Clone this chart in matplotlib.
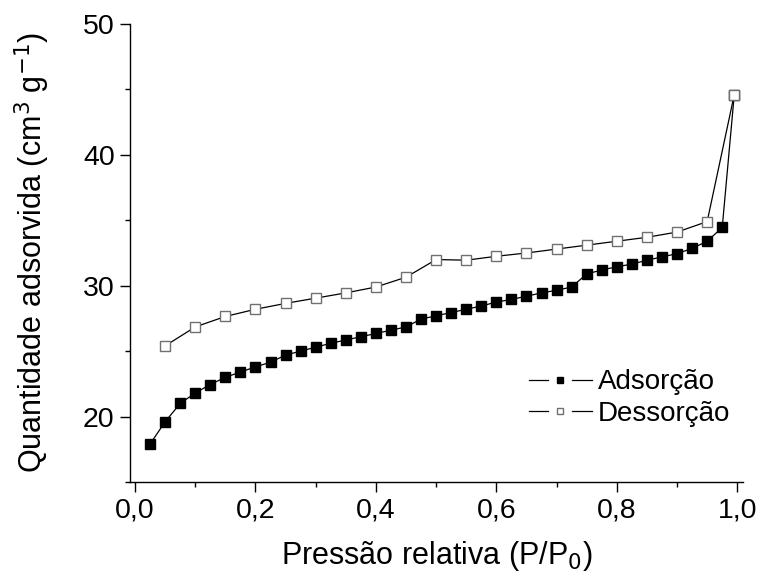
import matplotlib
matplotlib.use("Agg")
import matplotlib.pyplot as plt
from matplotlib.ticker import MultipleLocator, FuncFormatter
from matplotlib.legend_handler import HandlerBase
from matplotlib.lines import Line2D

plt.rcParams['font.family'] = ['Liberation Sans', 'DejaVu Sans']

# Data
p_ads = [0.025, 0.05, 0.075, 0.10, 0.125, 0.15, 0.175, 0.20, 0.225, 0.25,
         0.275, 0.30, 0.325, 0.35, 0.375, 0.40, 0.425, 0.45, 0.475, 0.50,
         0.525, 0.55, 0.575, 0.60, 0.625, 0.65, 0.675, 0.70, 0.725, 0.75,
         0.775, 0.80, 0.825, 0.85, 0.875, 0.90, 0.925, 0.95, 0.975, 0.995]
v_ads = [17.9, 19.6, 21.0, 21.8, 22.45, 23.0, 23.4, 23.8, 24.15, 24.7,
         25.0, 25.3, 25.6, 25.85, 26.1, 26.35, 26.6, 26.85, 27.45, 27.7,
         27.95, 28.2, 28.45, 28.75, 28.95, 29.2, 29.45, 29.65, 29.9, 30.9,
         31.2, 31.45, 31.65, 31.95, 32.2, 32.45, 32.85, 33.4, 34.45, 44.6]

p_des = [0.995, 0.95, 0.90, 0.85, 0.80, 0.75, 0.70, 0.65, 0.60, 0.55,
         0.50, 0.45, 0.40, 0.35, 0.30, 0.25, 0.20, 0.15, 0.10, 0.05]
v_des = [44.6, 34.9, 34.1, 33.7, 33.4, 33.1, 32.8, 32.5, 32.25, 31.95,
         32.0, 30.65, 29.9, 29.45, 29.05, 28.65, 28.2, 27.65, 26.85, 25.4]

xlabel = "Pressão relativa (P/P$_0$)"
ylabel = "Quantidade adsorvida (cm$^3$ g$^{-1}$)"
labels = ["Adsorção", "Dessorção"]


class GapLineHandler(HandlerBase):
    """Origin-style legend handle: line, gap, marker, gap, line."""
    def create_artists(self, legend, orig, xdescent, ydescent, width, height,
                       fontsize, trans):
        y = height / 2 - ydescent
        x0 = -xdescent
        gap = width * 0.19
        mid = x0 + width / 2
        l1 = Line2D([x0, mid - gap], [y, y], color=orig.get_color(),
                    lw=orig.get_linewidth(), transform=trans)
        l2 = Line2D([mid + gap, x0 + width], [y, y], color=orig.get_color(),
                    lw=orig.get_linewidth(), transform=trans)
        m = Line2D([mid], [y], linestyle='none', marker=orig.get_marker(),
                   ms=orig.get_markersize() * 0.6, mfc=orig.get_markerfacecolor(),
                   mec=orig.get_markeredgecolor(), mew=orig.get_markeredgewidth(),
                   transform=trans)
        return [l1, l2, m]


W, H = 758, 576
fig = plt.figure(figsize=(W/100, H/100), dpi=100)
ax = fig.add_axes([130/W, (H-482)/H, (743-130)/W, (482-24)/H])

h1, = ax.plot(p_ads, v_ads, color='black', lw=0.9, marker='s', ms=7,
              mfc='black', mec='black', label=labels[0], zorder=2)
h2, = ax.plot(p_des, v_des, color='black', lw=0.9, marker='s', ms=7,
              mfc='white', mec='#707070', mew=1.0, label=labels[1], zorder=3)

ax.set_xlim(-0.0083, 1.0095)
ax.set_ylim(15, 50)
ax.xaxis.set_major_locator(MultipleLocator(0.2))
ax.xaxis.set_minor_locator(MultipleLocator(0.1))
ax.yaxis.set_major_locator(MultipleLocator(10))
ax.yaxis.set_minor_locator(MultipleLocator(5))
ax.xaxis.set_major_formatter(FuncFormatter(lambda v, p: f"{v:.1f}".replace('.', ',')))
ax.yaxis.set_major_formatter(FuncFormatter(lambda v, p: f"{v:.0f}"))

for s in ['top', 'right']:
    ax.spines[s].set_visible(False)
for s in ['left', 'bottom']:
    ax.spines[s].set_linewidth(1.0)

ax.tick_params(which='major', direction='out', length=7, width=1.0, labelsize=20.5, pad=4)
ax.tick_params(which='minor', direction='out', length=3.5, width=1.0)

ax.set_xlabel(xlabel, fontsize=22, labelpad=11)
ax.set_ylabel(ylabel, fontsize=22)
ax.yaxis.set_label_coords(-0.128, 0.5)

ax.legend(handles=[h1, h2], loc='center left',
          bbox_to_anchor=(529/W, (H-398)/H), bbox_transform=fig.transFigure,
          frameon=False, fontsize=20, handlelength=2.25, handletextpad=0.22,
          labelspacing=0.2, borderaxespad=0, borderpad=0,
          handler_map={Line2D: GapLineHandler()})

fig.savefig("out.png", dpi=100)
